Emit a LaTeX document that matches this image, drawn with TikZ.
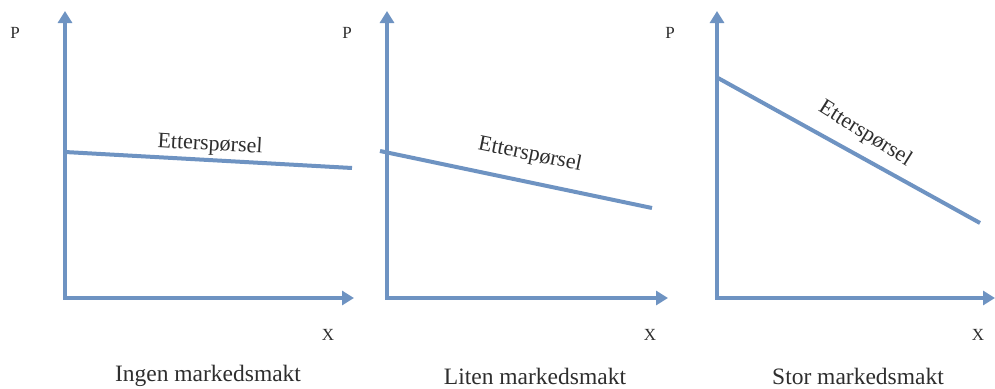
\documentclass[tikz,border=0pt]{standalone}
\usepackage{fontspec}
\setmainfont{Liberation Serif}
\usetikzlibrary{arrows.meta}
\definecolor{axblue}{HTML}{6E93C2}
\definecolor{txtgray}{HTML}{2E2E2E}
\begin{document}
\begin{tikzpicture}[x=1pt,y=-1pt,
  axes/.style={draw=axblue,line width=4pt,line join=miter,
    {Triangle[length=12pt,width=14pt]}-{Triangle[length=12pt,width=14pt]}},
  demand/.style={draw=axblue,line width=4pt},
  axlbl/.style={text=txtgray,font=\fontsize{17}{17}\selectfont,inner sep=0pt},
  curvelbl/.style={text=txtgray,font=\fontsize{22}{22}\selectfont,inner sep=0pt},
  titlelbl/.style={text=txtgray,font=\fontsize{23.5}{23.5}\selectfont,inner sep=0pt}]
\useasboundingbox (0,0) rectangle (995,388);
% Panel 1
\coordinate (o1) at (65,298);
\coordinate (ya) at (65,11);
\coordinate (xa) at (354,298);
\draw[axes] (ya) -- (o1) -- (xa);
\coordinate (d1a) at (65,152);
\coordinate (d1b) at (352,168);
\draw[demand] (d1a) -- (d1b);
\node[curvelbl,rotate=-3.2] (e1) at (210,145) {Etterspørsel};
\node[axlbl] (p1) at (15,33) {P};
\node[axlbl] (x1) at (328,335) {X};
\node[titlelbl] (t1) at (208,376) {Ingen markedsmakt};
% Panel 2
\coordinate (o2) at (387,298);
\coordinate (yb) at (387,11);
\coordinate (xb) at (668,298);
\draw[axes] (yb) -- (o2) -- (xb);
\coordinate (d2a) at (380,151);
\coordinate (d2b) at (652,208);
\draw[demand] (d2a) -- (d2b);
\node[curvelbl,rotate=-11.6] (e2) at (530,155) {Etterspørsel};
\node[axlbl] (p2) at (347,33) {P};
\node[axlbl] (x2) at (650,335) {X};
\node[titlelbl] (t2) at (535,376) {Liten markedsmakt};
% Panel 3
\coordinate (o3) at (717,298);
\coordinate (yc) at (717,11);
\coordinate (xc) at (995,298);
\draw[axes] (yc) -- (o3) -- (xc);
\coordinate (d3a) at (718,78);
\coordinate (d3b) at (980,223);
\draw[demand] (d3a) -- (d3b);
\node[curvelbl,rotate=-32] (e3) at (865,134) {Etterspørsel};
\node[axlbl] (p3) at (670,33) {P};
\node[axlbl] (x3) at (978,335) {X};
\node[titlelbl] (t3) at (858,376) {Stor markedsmakt};
\end{tikzpicture}
\end{document}
